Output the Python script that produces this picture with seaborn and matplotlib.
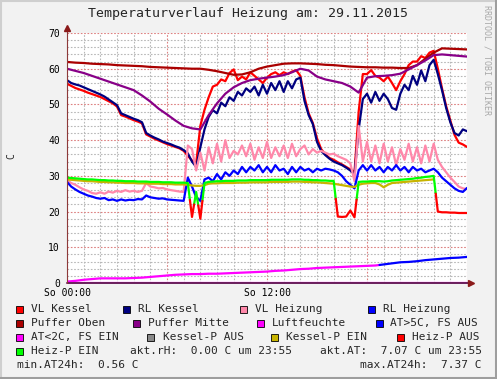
import numpy as np
import pandas as pd
import matplotlib
matplotlib.use("Agg")
import matplotlib.pyplot as plt
import seaborn as sns
from matplotlib.patches import Rectangle
from matplotlib.lines import Line2D

# 15-minute samples, 29.11.2015 00:00 - 24:00
vl_kessel = [55.8, 55.2, 54.6, 54.2, 53.8, 53.3, 52.9, 52.5,
             52.1, 51.5, 50.9, 50.3, 49.4, 47.0, 46.6, 46.1,
             45.6, 45.2, 44.7, 41.6, 41.0, 40.4, 39.9, 39.4,
             38.9, 38.5, 38.1, 37.7, 37.0, 35.6, 34.3, 33.5,
             44.0, 48.5, 52.0, 55.0, 55.5, 57.0, 56.5, 58.8,
             59.8, 56.8, 57.8, 57.0, 59.0, 58.0, 57.0, 56.0,
             57.5, 58.5, 59.0, 58.2, 59.0, 58.5, 59.2, 59.6,
             58.0, 52.0, 47.5, 44.8, 40.5, 37.5, 36.0, 35.0,
             34.5, 33.8, 33.2, 32.5, 31.8, 31.0, 48.0, 58.5,
             58.5, 59.6, 58.0, 57.5, 56.5, 57.8, 56.0, 54.0,
             56.5, 58.5, 61.0, 62.0, 62.0, 63.5, 63.0, 64.5,
             65.0, 60.0, 54.5, 49.5, 45.5, 41.5, 39.3, 38.8,
             38.1]
rl_kessel = [56.8, 56.0, 55.6, 55.3, 54.8, 54.3, 53.8, 53.3,
             52.8, 52.2, 51.4, 50.6, 49.8, 47.5, 47.0, 46.5,
             46.0, 45.6, 45.0, 42.0, 41.3, 40.7, 40.2, 39.6,
             39.2, 38.8, 38.3, 37.9, 37.2, 36.3, 34.0, 32.5,
             38.0, 43.0, 46.5, 48.4, 47.5, 50.5, 49.5, 52.0,
             51.0, 53.5, 52.5, 54.5, 53.5, 55.0, 52.5, 55.5,
             53.0, 56.0, 54.0, 56.5, 53.5, 56.5, 54.5, 57.0,
             57.5, 51.0, 47.0, 44.5, 39.5, 37.0, 35.8, 34.8,
             34.0, 33.5, 33.0, 32.3, 31.5, 30.5, 43.0, 51.5,
             53.0, 50.5, 53.5, 51.0, 53.0, 51.5, 49.0, 48.5,
             53.0, 55.5, 54.0, 58.0, 55.5, 59.5, 56.5, 61.0,
             62.5, 58.5, 54.0, 49.0, 45.0, 42.0, 41.3, 43.0,
             42.5]
vl_heizung = [28.8, 28.0, 27.5, 26.8, 26.2, 25.8, 25.2, 25.0,
              25.4, 25.0, 25.6, 25.3, 25.8, 25.5, 26.0, 25.6,
              25.8, 25.5, 25.8, 28.0, 27.0, 26.8, 26.5, 26.6,
              26.2, 26.0, 25.8, 25.6, 25.5, 38.5, 37.5, 31.5,
              36.5, 31.5, 38.0, 33.5, 39.0, 34.0, 40.0, 35.0,
              37.0, 36.0, 38.5, 35.5, 39.0, 34.5, 38.0, 35.0,
              39.5, 35.0, 38.0, 35.5, 38.5, 35.0, 39.0, 35.5,
              37.5, 38.5, 36.0, 37.5, 36.5, 37.0, 36.5, 36.0,
              36.2, 35.5, 35.0, 34.5, 33.5, 28.5, 44.0, 34.0,
              39.5, 34.0, 38.5, 33.5, 39.0, 34.0, 38.0, 33.0,
              37.5, 34.5, 39.0, 34.0, 38.0, 33.5, 38.5, 34.0,
              39.0, 34.5, 32.5, 31.0, 29.5, 28.3, 27.0, 26.5,
              26.3]
rl_heizung = [28.3, 27.0, 26.2, 25.5, 25.0, 24.5, 24.2, 23.8,
              23.6, 23.8, 23.2, 23.4, 23.0, 23.4, 23.1, 23.3,
              23.2, 23.5, 23.4, 24.5, 24.0, 23.8, 23.6, 23.7,
              23.4, 23.3, 23.2, 23.1, 23.0, 29.5, 27.0, 24.0,
              23.0, 29.0, 29.5, 28.5, 30.5, 29.0, 31.0, 30.0,
              31.5, 30.5, 32.5, 31.0, 32.5, 31.5, 33.0, 31.0,
              32.5, 31.0, 33.0, 31.5, 32.0, 30.5, 32.5, 31.0,
              32.5, 31.5, 32.0, 31.0, 32.0, 31.5, 32.0, 31.8,
              31.5, 31.0, 30.0, 28.5, 27.5, 26.5, 31.5, 33.0,
              31.5, 33.0, 31.5, 32.5, 31.0, 32.5, 31.5, 33.0,
              31.5, 32.5, 31.0, 32.5, 31.5, 32.0, 31.0, 31.5,
              32.0, 31.0, 29.5, 28.5, 27.5, 26.5, 25.8, 25.5,
              26.6]
heizp = [29.5, 29.4, 29.3, 29.2, 29.1, 29.0, 29.0, 28.9,
         28.8, 28.8, 28.7, 28.7, 28.6, 28.6, 28.5, 28.5,
         28.5, 28.4, 28.4, 28.4, 28.3, 28.3, 28.3, 28.2,
         28.2, 28.2, 28.1, 28.1, 28.1, 28.0, 18.5, 25.5,
         18.0, 28.0, 28.3, 28.4, 28.5, 28.5, 28.6, 28.6,
         28.6, 28.7, 28.7, 28.7, 28.8, 28.8, 28.8, 28.8,
         28.8, 28.9, 28.9, 28.9, 28.9, 28.9, 29.0, 29.0,
         29.0, 28.9, 28.9, 28.8, 28.8, 28.7, 28.7, 28.6,
         28.6, 18.6, 18.5, 18.6, 20.3, 18.4, 28.3, 28.4,
         28.4, 28.5, 28.5, 28.5, 28.4, 28.5, 28.7, 28.8,
         28.9, 29.0, 29.1, 29.2, 29.4, 29.5, 29.7, 29.8,
         30.0, 20.0, 19.8, 19.8, 19.7, 19.7, 19.6, 19.6,
         19.6]
heizp_aus_periods = [(7.5, 7.5), (8.0, 8.0), (16.25, 17.25), (22.25, 24.0)]
kessel_p_ein = [29.0, 28.9, 28.8, 28.7, 28.6, 28.5, 28.5, 28.4,
                28.3, 28.3, 28.2, 28.2, 28.1, 28.1, 28.0, 28.0,
                28.0, 27.9, 27.9, 27.9, 27.8, 27.8, 27.8, 27.7,
                27.7, 27.7, 27.6, 27.6, 27.6, 27.5, 27.3, 27.2,
                27.2, 27.4, 27.8, 27.9, 27.9, 28.0, 28.0, 28.0,
                28.0, 28.1, 28.1, 28.1, 28.2, 28.2, 28.2, 28.2,
                28.2, 28.3, 28.3, 28.3, 28.3, 28.3, 28.4, 28.4,
                28.4, 28.3, 28.3, 28.2, 28.2, 28.1, 28.0, 27.9,
                27.8, 27.6, 27.4, 27.2, 27.0, 26.9, 27.5, 27.8,
                27.9, 28.0, 28.0, 27.6, 26.8, 27.5, 28.0, 28.1,
                28.2, 28.3, 28.4, 28.5, 28.6, 28.7, 28.8, 28.9,
                29.0, None, None, None, None, None, None, None,
                None]

# 30-minute samples
puffer_oben = [61.9, 61.7, 61.6, 61.4, 61.3, 61.2, 61.0, 60.9, 60.8, 60.7,
               60.5, 60.4, 60.3, 60.2, 60.1, 60.0, 60.0, 59.7, 59.3, 58.8,
               58.3, 58.4, 59.0, 60.0, 60.6, 61.0, 61.4, 61.5, 61.5, 61.4,
               61.3, 61.1, 61.0, 60.8, 60.6, 60.5, 60.4, 60.4, 60.3, 60.3,
               60.2, 60.2, 61.0, 62.8, 64.5, 65.7, 65.6, 65.5, 65.4]
puffer_mitte = [60.0, 59.4, 58.8, 58.0, 57.2, 56.4, 55.6, 54.8, 54.0, 52.5,
                50.8, 48.8, 47.2, 45.5, 44.0, 43.3, 43.0, 47.0, 50.3, 53.0,
                54.8, 56.0, 56.8, 57.2, 57.5, 57.8, 58.2, 59.0, 60.0, 59.5,
                57.8, 57.0, 56.5, 56.0, 55.0, 53.3, 57.5, 57.9, 58.0, 58.2,
                58.6, 59.8, 61.0, 62.3, 63.8, 64.0, 63.8, 63.6, 63.4]
aussentemp = [0.4, 0.6, 0.9, 1.1, 1.3, 1.3, 1.3, 1.3, 1.4, 1.5,
              1.7, 1.9, 2.1, 2.3, 2.4, 2.5, 2.5, 2.6, 2.6, 2.7,
              2.8, 2.9, 3.0, 3.1, 3.2, 3.4, 3.5, 3.7, 3.9, 4.0,
              4.2, 4.3, 4.4, 4.5, 4.6, 4.7, 4.8, 4.9, 5.2, 5.5,
              5.8, 5.9, 6.1, 6.4, 6.6, 6.8, 7.0, 7.1, 7.3]
# hourly samples
luftfeuchte = [0.0, 0.0, 0.0, 0.0, 0.0, 0.0, 0.0, 0.0, 0.0, 0.0, 0.0, 0.0, 0.0,
               0.0, 0.0, 0.0, 0.0, 0.0, 0.0, 0.0, 0.0, 0.0, 0.0, 0.0, 0.0]

quarter = np.arange(len(vl_kessel)) * 0.25
half = np.arange(len(puffer_oben)) * 0.5
hourly = np.arange(len(luftfeuchte)) * 1.0

colors = {
    "VL Kessel": "#FF0000", "RL Kessel": "#000080", "VL Heizung": "#FF88AA",
    "RL Heizung": "#0000FF", "Puffer Oben": "#AA0000", "Puffer Mitte": "#880088",
    "Luftfeuchte": "#FF00FF", "AT>5C, FS AUS": "#0000FF", "AT<2C, FS EIN": "#FF00FF",
    "Kessel-P AUS": "#888888", "Kessel-P EIN": "#C8B400", "Heiz-P AUS": "#FF0000",
    "Heiz-P EIN": "#00FF00",
}

W, H = 497, 379
sns.set_style("white")
plt.rcParams["font.family"] = "DejaVu Sans Mono"

fig = plt.figure(figsize=(W / 100, H / 100), dpi=100, facecolor="#F2F2F2")
ax = fig.add_axes([67 / W, 96 / H, 400 / W, 250 / H], facecolor="white")

order = ["VL Kessel", "RL Kessel", "VL Heizung", "RL Heizung",
         "Puffer Oben", "Puffer Mitte", "Luftfeuchte"]
frames = []
for name, xs, ys in [("VL Kessel", quarter, vl_kessel), ("RL Kessel", quarter, rl_kessel),
                     ("VL Heizung", quarter, vl_heizung), ("RL Heizung", quarter, rl_heizung),
                     ("Puffer Oben", half, puffer_oben), ("Puffer Mitte", half, puffer_mitte),
                     ("Luftfeuchte", hourly, luftfeuchte)]:
    frames.append(pd.DataFrame({"hour": xs, "value": ys, "series": name}))
df = pd.concat(frames, ignore_index=True)

sns.lineplot(data=df, x="hour", y="value", hue="series", hue_order=order,
             palette={k: colors[k] for k in order}, estimator=None,
             legend=False, linewidth=1.6, ax=ax)


def split_state(x, y, on):
    # two copies of the line, cut half-way where the state flips
    xa, ya, xb, yb = [], [], [], []
    for i in range(len(x)):
        if on[i]:
            xa.append(x[i]); ya.append(y[i]); xb.append(x[i]); yb.append(np.nan)
        else:
            xb.append(x[i]); yb.append(y[i]); xa.append(x[i]); ya.append(np.nan)
        if i < len(x) - 1 and on[i] != on[i + 1]:
            xm, ym = (x[i] + x[i + 1]) / 2, (y[i] + y[i + 1]) / 2
            xa.append(xm); ya.append(ym); xb.append(xm); yb.append(ym)
    return xa, ya, xb, yb


# frost protection state with hysteresis 2C / 5C
fs_ein = []
state = True
for v in aussentemp:
    if v < 2:
        state = True
    elif v > 5:
        state = False
    fs_ein.append(state)
xa, ya, xb, yb = split_state(list(half), aussentemp, fs_ein)
ax.plot(xa, ya, color=colors["AT<2C, FS EIN"], lw=1.6)
ax.plot(xb, yb, color=colors["AT>5C, FS AUS"], lw=1.6)

kp = np.array([np.nan if v is None else v for v in kessel_p_ein], dtype=float)
ax.plot(quarter, kp, color=colors["Kessel-P EIN"], lw=1.6)

heizp_on = [not any(a <= h <= b for a, b in heizp_aus_periods) for h in quarter]
xa, ya, xb, yb = split_state(list(quarter), heizp, heizp_on)
ax.plot(xa, ya, color=colors["Heiz-P EIN"], lw=1.6)
ax.plot(xb, yb, color=colors["Heiz-P AUS"], lw=1.6)

ax.set_xlim(0, 24)
ax.set_ylim(0, 70)
ax.set_xticks([0, 6, 12, 18, 24])
ax.set_xticklabels(["So 00:00", "", "So 12:00", "", ""])
ax.set_xticks(np.arange(0, 25, 1), minor=True)
ax.set_yticks(np.arange(0, 71, 10))
ax.set_yticks(np.arange(0, 71, 2), minor=True)
ax.tick_params(axis="both", which="both", length=0, labelsize=7, colors="black")
ax.tick_params(axis="y", pad=5)
ax.tick_params(axis="x", pad=3.5)
ax.set_xlabel("")
ax.set_ylabel("")
ax.grid(which="minor", color="#B8B8B8", linestyle=(0, (1.5, 1.5)), linewidth=0.8)
ax.grid(which="major", color="#DD8080", linestyle=(0, (1.5, 1.5)), linewidth=0.8)
ax.set_axisbelow(True)
for s in ax.spines.values():
    s.set_visible(False)

# axes with arrows
ax.plot([0, 1.008], [0, 0], transform=ax.transAxes, color="#6A1F5C", lw=1.4,
        clip_on=False, zorder=6)
ax.plot([0, 0], [0, 1.018], transform=ax.transAxes, color="#8E3A3A", lw=0.8,
        clip_on=False, zorder=6)
ax.plot([1.009], [0], transform=ax.transAxes, marker=">", ms=4.5, color="#8B1A1A",
        clip_on=False, zorder=7)
ax.plot([0], [1.02], transform=ax.transAxes, marker="^", ms=4.5, color="#8B1A1A",
        clip_on=False, zorder=7)


def fx(x):
    return x / W


def fy(y):
    return 1 - y / H


fig.text(fx(248.5), fy(13.5), "Temperaturverlauf Heizung am: 29.11.2015",
         ha="center", va="center", fontsize=9.5)
fig.text(fx(487), fy(5), "RRDTOOL / TOBI OETIKER", rotation=-90, ha="center",
         va="top", fontsize=6, color="#A8A8A8")
fig.text(fx(11), fy(156), "C", rotation=90, ha="center", va="center", fontsize=7)

legend_items = [
    (16, 31, 309, "VL Kessel"), (123, 138, 309, "RL Kessel"),
    (240, 255, 309, "VL Heizung"), (368, 383, 309, "RL Heizung"),
    (16, 31, 323, "Puffer Oben"), (133, 148, 323, "Puffer Mitte"),
    (257, 272, 323, "Luftfeuchte"), (376, 390, 323, "AT>5C, FS AUS"),
    (16, 31, 337, "AT<2C, FS EIN"), (147, 163, 337, "Kessel-P AUS"),
    (271, 286, 337, "Kessel-P EIN"), (397, 412, 337, "Heiz-P AUS"),
    (16, 31, 351, "Heiz-P EIN"),
]
for bx, tx, yc, label in legend_items:
    fig.add_artist(Rectangle((fx(bx), fy(yc + 3.5)), 7 / W, 7 / H,
                             facecolor=colors[label], edgecolor="black", lw=0.6,
                             transform=fig.transFigure))
    fig.text(fx(tx), fy(yc), label, ha="left", va="center", fontsize=8)

fig.text(fx(130), fy(351), "akt.rH:  0.00 C um 23:55", ha="left", va="center", fontsize=8)
fig.text(fx(320), fy(351), "akt.AT:  7.07 C um 23:55", ha="left", va="center", fontsize=8)
fig.text(fx(17), fy(365), "min.AT24h:  0.56 C", ha="left", va="center", fontsize=8)
fig.text(fx(481), fy(365), "max.AT24h:  7.37 C", ha="right", va="center", fontsize=8)

# frame
fig.add_artist(Line2D([0, 1], [fy(1), fy(1)], color="#CFCFCF", lw=1.5, transform=fig.transFigure))
fig.add_artist(Line2D([fx(1), fx(1)], [0, 1], color="#CFCFCF", lw=1.5, transform=fig.transFigure))
fig.add_artist(Line2D([0, 1], [fy(377.5), fy(377.5)], color="#9E9E9E", lw=2.2, transform=fig.transFigure))
fig.add_artist(Line2D([fx(495.5), fx(495.5)], [0, 1], color="#9E9E9E", lw=2.2, transform=fig.transFigure))

fig.savefig("out.png", dpi=100, facecolor=fig.get_facecolor())
